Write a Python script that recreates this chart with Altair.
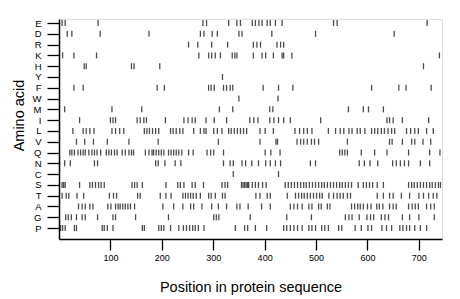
import altair as alt
import pandas as pd

amino_order = ["E", "D", "R", "K", "H", "Y", "F", "W", "M", "I",
               "L", "V", "Q", "N", "C", "S", "T", "A", "G", "P"]

E = [6, 12, 76, 280, 287, 330, 346, 353, 376, 382, 389, 395, 405, 411, 421, 434, 534, 541, 716]
D = [16, 25, 80, 175, 275, 282, 298, 308, 350, 356, 414, 499, 652]
R = [252, 270, 297, 328, 378, 385, 392, 424, 431, 437]
K = [7, 29, 73, 272, 291, 297, 304, 314, 337, 342, 346, 378, 395, 402, 417, 434, 437, 453, 740]
H = [49, 53, 141, 146, 196, 709]
Y = [318]
F = [29, 47, 191, 205, 291, 296, 302, 320, 326, 333, 338, 397, 427, 455, 608, 661, 675, 724]
W = [350, 426]
M = [11, 103, 161, 312, 338, 410, 416, 563, 592, 602, 631]
I = [40, 100, 105, 110, 152, 158, 165, 170, 207, 243, 251, 259, 265, 286, 302, 326, 371, 379,
     387, 410, 418, 427, 437, 450, 509, 638, 643, 650, 668, 719]
L = [27, 47, 53, 60, 68, 103, 110, 118, 126, 166, 171, 176, 182, 188, 194, 217, 222, 228, 235,
     241, 262, 275, 282, 286, 301, 308, 317, 330, 335, 341, 347, 353, 359, 365, 391, 401, 417,
     459, 468, 476, 483, 492, 524, 538, 547, 554, 564, 570, 580, 586, 595, 608, 614, 620, 627,
     633, 640, 647, 653, 676, 684, 692, 699, 715, 728]
V = [34, 50, 67, 94, 136, 193, 310, 391, 422, 425, 463, 470, 476, 483, 491, 497, 505, 561, 643,
     648, 668, 686, 692, 708, 723]
Q = [21, 25, 30, 37, 42, 47, 51, 58, 64, 69, 74, 81, 92, 97, 102, 108, 113, 123, 129, 136, 141,
     145, 168, 175, 181, 184, 189, 194, 199, 204, 213, 218, 223, 228, 233, 239, 252, 261, 288,
     295, 301, 320, 401, 412, 430, 546, 551, 556, 561, 588, 614, 638, 680, 721, 741]
N = [1, 11, 22, 69, 75, 188, 193, 206, 226, 237, 320, 333, 339, 356, 363, 375, 388, 402, 411,
     421, 431, 489, 499, 584, 594, 605, 620, 649, 656, 664, 672, 680, 703, 721]
C = [339, 427]
S = [6, 9, 12, 40, 60, 65, 71, 77, 82, 88, 142, 147, 152, 162, 208, 231, 236, 243, 259, 265,
     281, 317, 323, 328, 355, 358, 361, 364, 367, 369, 376, 382, 388, 396, 403, 440, 446, 452,
     458, 464, 470, 476, 481, 487, 493, 499, 505, 511, 516, 522, 528, 534, 540, 546, 551, 557,
     563, 569, 582, 592, 598, 604, 610, 619, 631, 680, 686, 691, 697, 703, 709, 715, 721, 726,
     732, 738, 742]
T = [6, 14, 19, 35, 48, 98, 106, 112, 153, 158, 197, 208, 218, 241, 246, 251, 256, 261, 267,
     275, 291, 296, 304, 318, 323, 383, 391, 405, 411, 444, 460, 466, 472, 477, 483, 489, 495,
     501, 507, 512, 525, 534, 541, 547, 553, 561, 567, 619, 631, 643, 650, 666, 682, 700, 709,
     719, 728, 735]
A = [38, 45, 51, 60, 66, 95, 101, 110, 115, 119, 124, 129, 134, 139, 147, 202, 223, 241, 256,
     262, 278, 297, 310, 326, 346, 352, 368, 394, 411, 450, 457, 464, 473, 486, 492, 505, 510,
     522, 527, 569, 575, 581, 586, 592, 600, 607, 618, 623, 630, 643, 650, 656, 680, 687, 693,
     699, 715, 723, 730]
G = [13, 18, 24, 34, 45, 51, 75, 105, 110, 149, 213, 301, 306, 311, 372, 443, 491, 557, 564,
     570, 584, 599, 606, 612, 627, 634, 641, 668, 682, 700, 730]
P = [3, 7, 12, 30, 34, 84, 88, 94, 105, 162, 166, 194, 199, 204, 217, 233, 242, 248, 254, 260,
     265, 271, 282, 343, 361, 367, 382, 404, 437, 443, 450, 457, 464, 473, 486, 492, 499, 511,
     517, 524, 544, 550, 576, 588, 601, 608, 628, 637, 647, 663, 669, 676, 682, 692, 703, 715]

series = {"E": E, "D": D, "R": R, "K": K, "H": H, "Y": Y, "F": F, "W": W, "M": M, "I": I,
          "L": L, "V": V, "Q": Q, "N": N, "C": C, "S": S, "T": T, "A": A, "G": G, "P": P}

x_ticks = [100, 200, 300, 400, 500, 600, 700]

rows = [{"aa": k, "pos": p} for k, v in series.items() for p in v]
df = pd.DataFrame(rows)

FONT = "Liberation Sans"

chart = alt.Chart(df).mark_tick(color="black", thickness=1.3, size=6).encode(
    x=alt.X("pos:Q",
            scale=alt.Scale(domain=[0, 745], nice=False, zero=False),
            axis=alt.Axis(values=x_ticks, title="Position in protein sequence",
                          grid=False, tickSize=11, labelFontSize=9, labelPadding=3,
                          labelFont=FONT, titleFont=FONT, titleFontSize=14.5,
                          titleFontWeight="normal", titleY=48, titleBaseline="middle",
                          domainColor="black", tickColor="black", labelColor="black",
                          titleColor="black", domainWidth=1.5, tickWidth=1.3)),
    y=alt.Y("aa:N", sort=amino_order,
            scale=alt.Scale(type="point", domain=amino_order, padding=0.695, align=0.27),
            axis=alt.Axis(title="Amino acid", grid=False, tickSize=12, labelFontSize=9.5,
                          labelPadding=6, labelFont=FONT, titleFont=FONT, titleFontSize=14.5,
                          titleFontWeight="normal", titleX=-40, titleY=96,
                          titleBaseline="middle", titleAngle=-90,
                          domainColor="black", tickColor="black", labelColor="black",
                          titleColor="black", domainWidth=1.5, tickWidth=1.3)),
).properties(
    width=383,
    height=220,
    autosize=alt.AutoSizeParams(type="none"),
    padding={"left": 51, "top": 11, "right": 10, "bottom": 60},
).configure_view(stroke=None).configure(background="white")

chart.save("out.html", embed_options={"renderer": "svg", "actions": False})
